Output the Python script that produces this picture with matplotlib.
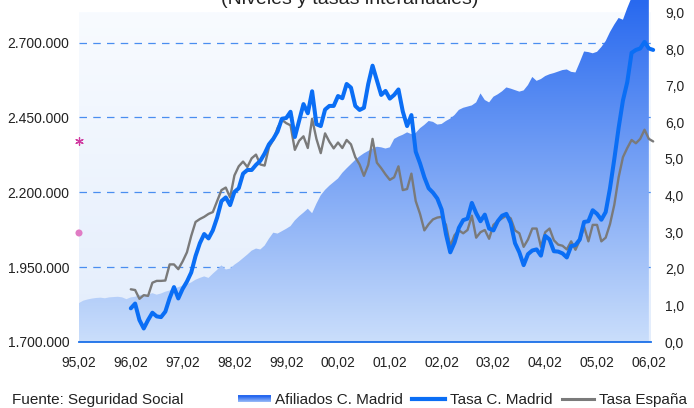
import matplotlib
matplotlib.use("Agg")
import matplotlib.pyplot as plt
import numpy as np
from matplotlib.colors import LinearSegmentedColormap
from matplotlib.legend_handler import HandlerBase
from matplotlib.lines import Line2D
from matplotlib.patches import Patch, Rectangle
from matplotlib.ticker import FuncFormatter

plt.rcParams["font.family"] = ["Liberation Sans", "DejaVu Sans"]
plt.rcParams["font.size"] = 10

# Monthly data, Feb 1995 .. Feb/Mar 2006
# Afiliados C. Madrid (thousands), from 95,02
afiliados = [
    1830, 1838, 1842, 1845, 1847, 1848, 1846, 1849, 1850, 1851, 1849, 1843,
    1849, 1851, 1857, 1857, 1858, 1863, 1858, 1862, 1868, 1872, 1878, 1883,
    1888, 1893, 1899, 1908, 1914, 1919, 1914, 1928, 1941, 1956, 1942, 1945,
    1958, 1968, 1980, 1992, 2005, 2012, 2009, 2022, 2045, 2065, 2062, 2070,
    2078, 2087, 2106, 2120, 2132, 2145, 2130, 2162, 2190, 2208, 2222, 2234,
    2246, 2265, 2280, 2294, 2308, 2320, 2330, 2338, 2346, 2352, 2350, 2346,
    2350, 2378, 2386, 2392, 2400, 2394, 2398, 2414, 2425, 2438, 2435, 2426,
    2428, 2438, 2446, 2458, 2475, 2482, 2486, 2490, 2500, 2530, 2508, 2500,
    2519, 2527, 2537, 2550, 2546, 2541, 2536, 2540, 2558, 2585, 2572, 2578,
    2588, 2594, 2598, 2603, 2608, 2610, 2602, 2600, 2634, 2670, 2668, 2664,
    2669, 2685, 2705, 2735, 2760, 2782, 2776, 2815, 2850, 2880, 2900, 2920,
    2940,
]

# Tasas interanuales (%), from 96,02
tasa_madrid = [
    0.92, 1.05, 0.60, 0.37, 0.60, 0.80, 0.70, 0.68, 0.83, 1.20, 1.50, 1.19,
    1.45, 1.65, 1.90, 2.35, 2.70, 2.95, 2.83, 3.05, 3.40, 3.85, 3.95, 3.74,
    4.10, 4.20, 4.60, 4.70, 4.70, 4.84, 4.95, 5.15, 5.40, 5.55, 5.75, 6.10,
    6.12, 6.29, 5.60, 6.05, 6.50, 6.25, 6.85, 5.95, 5.90, 6.35, 6.45, 6.45,
    6.72, 6.66, 7.05, 6.95, 6.45, 6.34, 6.40, 7.05, 7.55, 7.15, 6.75, 6.86,
    6.65, 6.75, 6.90, 6.30, 5.90, 6.20, 5.20, 4.88, 4.50, 4.20, 4.08, 3.92,
    3.62, 2.95, 2.45, 2.72, 3.12, 3.33, 3.37, 3.80, 3.52, 3.30, 3.48, 3.10,
    3.05, 3.30, 3.45, 3.50, 3.25, 2.70, 2.45, 2.10, 2.40, 2.50, 2.53, 2.36,
    2.90, 2.80, 2.48, 2.47, 2.42, 2.31, 2.62, 2.65, 2.80, 3.28, 3.30, 3.60,
    3.50, 3.34, 3.55, 4.20, 5.00, 5.85, 6.60, 7.10, 7.90, 7.98, 8.02, 8.20,
    8.02, 7.98,
]
tasa_espana = [
    1.44, 1.42, 1.18, 1.28, 1.26, 1.62, 1.67, 1.67, 1.68, 2.12, 2.12, 1.99,
    2.20, 2.45, 2.90, 3.28, 3.36, 3.42, 3.50, 3.55, 3.85, 4.15, 4.22, 3.95,
    4.55, 4.80, 4.93, 4.78, 5.02, 5.12, 4.85, 4.82, 5.32, 5.52, 5.85, 6.07,
    5.98, 5.92, 5.25, 5.50, 5.62, 5.30, 6.10, 5.55, 5.16, 5.70, 5.47, 5.29,
    5.45, 5.30, 5.52, 5.40, 5.05, 4.85, 4.54, 4.84, 5.55, 4.90, 4.75, 4.58,
    4.43, 4.50, 4.80, 4.15, 4.18, 4.60, 3.85, 3.50, 3.05, 3.22, 3.35, 3.40,
    3.42, 3.20, 2.62, 2.92, 3.05, 2.97, 3.06, 3.45, 2.85, 3.00, 3.06, 2.82,
    3.20, 3.30, 3.38, 3.45, 3.38, 3.05, 2.97, 2.60, 2.80, 3.10, 3.10, 2.60,
    3.00, 3.10, 2.78, 2.66, 2.63, 2.53, 2.75, 2.52, 2.78, 3.15, 2.75, 3.20,
    3.20, 2.75, 2.85, 3.22, 3.75, 4.50, 5.05, 5.30, 5.52, 5.43, 5.55, 5.80,
    5.55, 5.48,
]

year_labels = ["95,02", "96,02", "97,02", "98,02", "99,02", "00,02",
               "01,02", "02,02", "03,02", "04,02", "05,02", "06,02"]
left_ticks = [1700, 1950, 2200, 2450, 2700]
right_ticks = list(range(10))

# stray series markers at the left edge (left-axis units, thousands)
marker_star = 2371
marker_dot = 2064

BLUE = "#0a6ef5"
GRAY = "#7a7a7a"
GRID = "#4a8ef0"
AREA_TOP = "#2869ef"
AREA_BOTTOM = "#cadefb"


class GradientHandler(HandlerBase):
    def create_artists(self, legend, orig_handle, xdescent, ydescent,
                       width, height, fontsize, trans):
        cmap = LinearSegmentedColormap.from_list("g", [AREA_BOTTOM, AREA_TOP])
        n = 6
        h = height * 0.6
        y0 = -ydescent + (height - h) / 2
        out = []
        for i in range(n):
            r = Rectangle((-xdescent, y0 + i * h / n), width, h / n + 0.05,
                          facecolor=cmap(0.35 + 0.65 * i / (n - 1)),
                          edgecolor="none", transform=trans)
            out.append(r)
        return out


def main() -> None:
    fig = plt.figure(figsize=(6.94, 4.08), dpi=100)
    ax = fig.add_axes([79 / 694, 66 / 408, (651 - 79) / 694, 342 / 408])
    ax2 = ax.twinx()

    m_area = np.arange(len(afiliados))
    m_rate = np.arange(len(tasa_madrid)) + 12
    xmax = 132.5
    ymax_left = 1700 + 342 / 299.5 * 1000
    ymax_right = 342 / 36.6

    # background gradient (plot area only up to 2.800.000)
    bg = LinearSegmentedColormap.from_list("bg", ["#e3edfc", "#f8fbff"])
    ax.imshow(np.linspace(0, 1, 256).reshape(-1, 1), extent=[0, xmax, 1700, 2800],
              cmap=bg, aspect="auto", origin="lower", zorder=0)
    ax.patch.set_visible(False)

    # area with vertical gradient
    poly = ax.fill_between(m_area, 1700, afiliados, facecolor="none",
                           edgecolor="none", zorder=1)
    area_cmap = LinearSegmentedColormap.from_list("area", [AREA_BOTTOM, AREA_TOP])
    im = ax.imshow(np.linspace(0, 1, 256).reshape(-1, 1),
                   extent=[0, m_area[-1], 1700, ymax_left],
                   cmap=area_cmap, aspect="auto", origin="lower", zorder=1)
    im.set_clip_path(poly.get_paths()[0], transform=ax.transData)
    ax.set_xlim(0, xmax)
    ax.set_ylim(1700, ymax_left)
    ax2.set_ylim(0, ymax_right)

    ax.set_axisbelow(True)
    ax.yaxis.grid(True, color=GRID, linewidth=0.9, linestyle=(0, (6, 5)))
    ax.xaxis.grid(False)

    ax.scatter([0], [marker_star], marker=(6, 2, 0), s=30, color="#d03aa0",
               linewidths=0.9, clip_on=False, zorder=5)
    ax.scatter([0], [marker_dot], marker="o", s=26, color="#e07cc4",
               edgecolors="none", clip_on=False, zorder=5)

    ax2.plot(m_rate, tasa_espana, color=GRAY, linewidth=1.7, clip_on=False,
             solid_capstyle="round", solid_joinstyle="round", zorder=3)
    ax2.plot(m_rate, tasa_madrid, color=BLUE, linewidth=2.9, clip_on=False,
             solid_capstyle="round", solid_joinstyle="round", zorder=4)

    ax.set_xticks(np.arange(len(year_labels)) * 12)
    ax.set_xticklabels(year_labels)
    ax.set_yticks(left_ticks)
    ax.yaxis.set_major_formatter(
        FuncFormatter(lambda v, p: f"{v * 1000:,.0f}".replace(",", ".")))
    ax2.set_yticks(right_ticks)
    ax2.yaxis.set_major_formatter(
        FuncFormatter(lambda v, p: f"{v:.1f}".replace(".", ",")))

    ax.tick_params(axis="x", length=0, pad=10, labelsize=10, colors="#222222")
    ax.tick_params(axis="y", length=0, pad=7, labelsize=10, colors="#222222")
    ax2.tick_params(axis="y", length=0, pad=10, labelsize=10, colors="#222222")

    for a in (ax, ax2):
        for s in ("top", "left", "right", "bottom"):
            a.spines[s].set_visible(False)
    ax.spines["bottom"].set_visible(True)
    ax.spines["bottom"].set_color("#1a6fe8")
    ax.spines["bottom"].set_linewidth(1.3)
    ax.spines["bottom"].set_zorder(6)

    fig.text(350 / 694, 1 - 4 / 408, "(Niveles y tasas interanuales)",
             ha="center", va="baseline", fontsize=14, color="#222222")
    fig.text(12 / 694, 1 - 400 / 408, "Fuente: Seguridad Social",
             ha="left", va="center", fontsize=11, color="#222222")

    handles = [
        Patch(facecolor=AREA_TOP),
        Line2D([], [], color=BLUE, linewidth=3),
        Line2D([], [], color=GRAY, linewidth=2.2),
    ]
    labels = ["Afiliados C. Madrid", "Tasa C. Madrid", "Tasa España"]
    fig.legend(handles, labels, loc="center left",
               bbox_to_anchor=(238 / 694, 1 - 400 / 408), ncol=3,
               frameon=False, borderpad=0, borderaxespad=0,
               handlelength=2.15, handletextpad=0.3, columnspacing=0.6,
               fontsize=11, handler_map={Patch: GradientHandler()},
               labelcolor="#222222")

    fig.savefig("out.png", dpi=100)
    plt.close(fig)


if __name__ == "__main__":
    main()
